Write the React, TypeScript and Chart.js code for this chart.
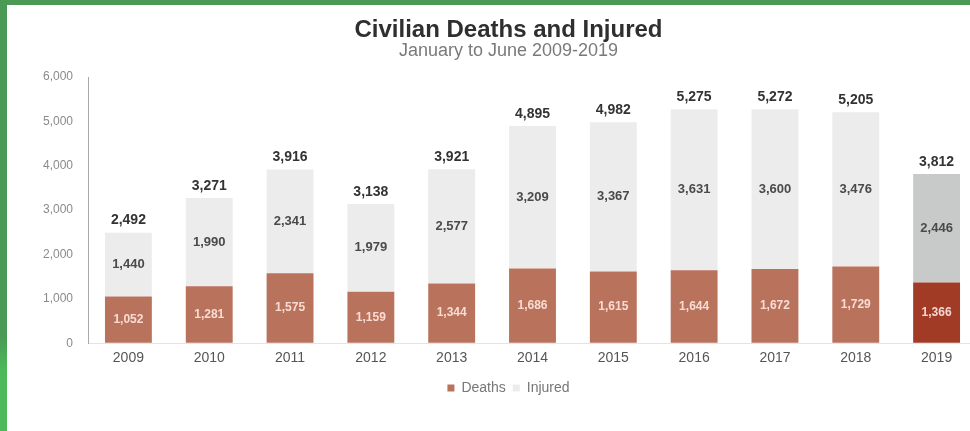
import React, { useEffect, useRef } from "react";
import { Chart, registerables } from "chart.js";

Chart.register(...registerables);

const years = ["2009", "2010", "2011", "2012", "2013", "2014", "2015", "2016", "2017", "2018", "2019"];
const deaths = [1052, 1281, 1575, 1159, 1344, 1686, 1615, 1644, 1672, 1729, 1366];
const injured = [1440, 1990, 2341, 1979, 2577, 3209, 3367, 3631, 3600, 3476, 2446];
const totals = [2492, 3271, 3916, 3138, 3921, 4895, 4982, 5275, 5272, 5205, 3812];
const yTickValues = [0, 1000, 2000, 3000, 4000, 5000, 6000];

const titleText = "Civilian Deaths and Injured";
const subtitleText = "January to June 2009-2019";

const FONT = "'Liberation Sans', Arial, sans-serif";
const deathColors = years.map((y) => (y === "2019" ? "#a13b26" : "#b9725c"));
const injuredColors = years.map((y) => (y === "2019" ? "#c8caca" : "#ececec"));

const fmt = (v: number) => v.toLocaleString("en-US");

const valueLabels = {
  id: "valueLabels",
  afterDatasetsDraw(chart: any) {
    const ctx = chart.ctx;
    ctx.save();
    ctx.textAlign = "center";
    ctx.textBaseline = "middle";
    const m0 = chart.getDatasetMeta(0);
    const m1 = chart.getDatasetMeta(1);
    m0.data.forEach((bar: any, i: number) => {
      const { x, y, base } = bar.getProps(["x", "y", "base"], true);
      ctx.font = `bold 12px ${FONT}`;
      ctx.fillStyle = "rgba(255,232,225,0.9)";
      ctx.fillText(fmt(deaths[i]), x, (y + base) / 2);
    });
    m1.data.forEach((bar: any, i: number) => {
      const { x, y, base } = bar.getProps(["x", "y", "base"], true);
      ctx.font = `bold 13px ${FONT}`;
      ctx.fillStyle = "#4a4a4a";
      ctx.fillText(fmt(injured[i]), x, (y + base) / 2);
      ctx.font = `bold 14px ${FONT}`;
      ctx.fillStyle = "#333333";
      ctx.fillText(fmt(totals[i]), x, y - 12);
    });
    ctx.restore();
  },
};

export default function App() {
  const canvasRef = useRef<HTMLCanvasElement | null>(null);

  useEffect(() => {
    if (!canvasRef.current) return;
    const chart = new Chart(canvasRef.current, {
      type: "bar",
      data: {
        labels: years,
        datasets: [
          {
            label: "Deaths",
            data: deaths,
            backgroundColor: deathColors,
            barPercentage: 0.58,
            categoryPercentage: 1,
          },
          {
            label: "Injured",
            data: injured,
            backgroundColor: injuredColors,
            barPercentage: 0.58,
            categoryPercentage: 1,
          },
        ],
      },
      options: {
        responsive: false,
        animation: false,
        layout: { padding: { left: 40, right: 0, top: 0, bottom: 26 } },
        plugins: {
          title: {
            display: true,
            text: titleText,
            color: "#2f2f2f",
            font: { family: FONT, size: 24, weight: "bold", lineHeight: 1 },
            padding: { top: 18, bottom: 0 },
          },
          subtitle: {
            display: true,
            text: subtitleText,
            color: "#7a7a7a",
            font: { family: FONT, size: 18, lineHeight: 1 },
            padding: { top: 0, bottom: 17 },
          },
          legend: {
            display: true,
            position: "bottom",
            labels: {
              color: "#777777",
              font: { family: FONT, size: 14 },
              boxWidth: 7,
              boxHeight: 7,
              padding: 7,
            },
          },
          tooltip: { enabled: false },
        },
        scales: {
          x: {
            stacked: true,
            grid: { display: true, drawOnChartArea: false, drawTicks: false, color: "rgba(0,0,0,0)" },
            border: { display: true, color: "#e4e4e4", width: 1 },
            ticks: { color: "#555555", font: { family: FONT, size: 14 }, padding: 7 },
          },
          y: {
            stacked: true,
            min: 0,
            max: 6000,
            afterBuildTicks: (scale: any) => {
              scale.ticks = yTickValues.map((v) => ({ value: v }));
            },
            afterFit: (scale: any) => {
              scale.width = 48;
            },
            grid: { display: true, drawOnChartArea: false, drawTicks: false, color: "rgba(0,0,0,0)" },
            border: { display: true, color: "#a8a8a8", width: 1 },
            ticks: {
              color: "#8a8a8a",
              font: { family: FONT, size: 12 },
              padding: 15,
              callback: (v: any) => fmt(Number(v)),
            },
          },
        },
      },
      plugins: [valueLabels],
    });
    return () => chart.destroy();
  }, []);

  return (
    <div
      style={{
        position: "fixed",
        left: 0,
        top: 0,
        width: 970,
        height: 431,
        overflow: "hidden",
        background: "#ffffff",
      }}
    >
      <canvas
        ref={canvasRef}
        width={977}
        height={431}
        style={{ position: "absolute", left: 0, top: 0 }}
      />
      <div style={{ position: "absolute", left: 0, top: 0, width: 970, height: 5, background: "#4a9a55" }} />
      <div
        style={{
          position: "absolute",
          left: 0,
          top: 0,
          width: 7,
          height: 431,
          background: "linear-gradient(to bottom, #4a9a55 0%, #4a9a55 78%, #4cba5a 86%, #4cba5a 100%)",
        }}
      />
    </div>
  );
}
